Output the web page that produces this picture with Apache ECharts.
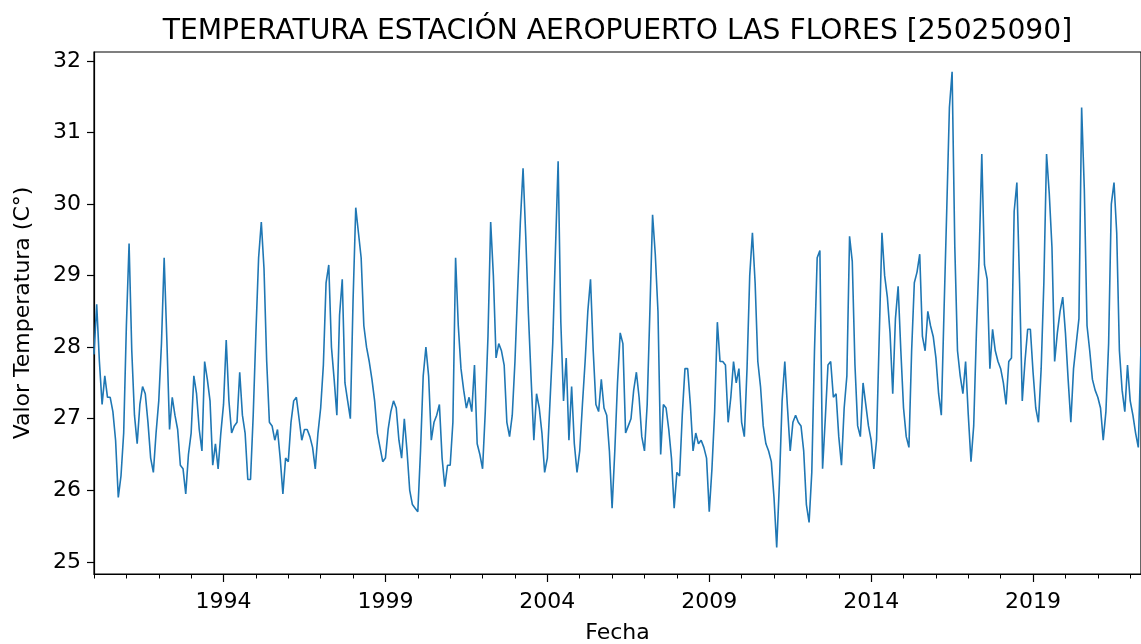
<!DOCTYPE html>
<html>
<head>
<meta charset="utf-8">
<script src="https://cdn.jsdelivr.net/npm/echarts@6/dist/echarts.min.js"></script>
<style>
  html, body { margin: 0; padding: 0; background: #fff; }
  #chart { width: 1141px; height: 644px; }
</style>
</head>
<body>
<div id="chart"></div>
<script>
// Monthly mean temperature, station 25025090, starting January 1990.
const startYear = 1990;
const temperatura = [
  27.9, 28.6, 27.8, 27.2, 27.6, 27.3, 27.3, 27.1, 26.7, 25.9, 26.2, 26.8,          // 1990
  28.3, 29.45, 27.95, 27.05, 26.65, 27.2, 27.45, 27.35, 26.95, 26.45, 26.25, 26.8, // 1991
  27.25, 28.05, 29.25, 28.1, 26.85, 27.3, 27.05, 26.85, 26.35, 26.3, 25.95, 26.5,  // 1992
  26.8, 27.6, 27.35, 26.85, 26.55, 27.8, 27.55, 27.25, 26.35, 26.65, 26.3, 26.8,   // 1993
  27.2, 28.1, 27.25, 26.8, 26.9, 26.95, 27.65, 27.05, 26.8, 26.15, 26.15, 27.05,   // 1994
  28.2, 29.25, 29.75, 29.1, 27.8, 26.95, 26.9, 26.7, 26.85, 26.45, 25.95, 26.45,   // 1995
  26.4, 26.95, 27.25, 27.3, 27.0, 26.7, 26.85, 26.85, 26.75, 26.6, 26.3, 26.8,     // 1996
  27.15, 27.75, 28.9, 29.15, 28.0, 27.55, 27.05, 28.45, 28.95, 27.5, 27.25, 27.0,  // 1997
  28.65, 29.95, 29.6, 29.25, 28.3, 28.0, 27.8, 27.55, 27.25, 26.8, 26.6, 26.4,     // 1998
  26.45, 26.85, 27.1, 27.25, 27.15, 26.7, 26.45, 27.0, 26.55, 26.0, 25.8, 25.75,   // 1999
  25.7, 26.55, 27.6, 28.0, 27.6, 26.7, 26.95, 27.05, 27.2, 26.45, 26.05, 26.35,    // 2000
  26.35, 26.95, 29.25, 28.3, 27.7, 27.4, 27.15, 27.3, 27.1, 27.75, 26.65, 26.5,    // 2001
  26.3, 27.1, 28.15, 29.75, 29.0, 27.85, 28.05, 27.95, 27.75, 26.95, 26.75, 27.05, // 2002
  27.8, 28.8, 29.75, 30.5, 29.55, 28.45, 27.55, 26.7, 27.35, 27.15, 26.8, 26.25,   // 2003
  26.45, 27.25, 28.05, 29.35, 30.6, 28.35, 27.25, 27.85, 26.7, 27.45, 26.65, 26.25,// 2004
  26.55, 27.2, 27.8, 28.5, 28.95, 27.95, 27.2, 27.1, 27.55, 27.15, 27.05, 26.55,   // 2005
  25.75, 26.55, 27.5, 28.2, 28.05, 26.8, 26.9, 27.0, 27.4, 27.65, 27.3, 26.75,     // 2006
  26.55, 27.2, 28.5, 29.85, 29.3, 28.5, 26.5, 27.2, 27.15, 26.85, 26.45, 25.75,    // 2007
  26.25, 26.2, 27.05, 27.7, 27.7, 27.2, 26.55, 26.8, 26.65, 26.7, 26.6, 26.45,     // 2008
  25.7, 26.3, 27.1, 28.35, 27.8, 27.8, 27.75, 26.95, 27.3, 27.8, 27.5, 27.7,       // 2009
  26.95, 26.75, 27.7, 29.0, 29.6, 28.9, 27.8, 27.45, 26.9, 26.65, 26.55, 26.4,     // 2010
  25.9, 25.2, 26.1, 27.25, 27.8, 27.15, 26.55, 26.95, 27.05, 26.95, 26.9, 26.55,   // 2011
  25.8, 25.55, 26.25, 27.95, 29.25, 29.35, 26.3, 27.0, 27.75, 27.8, 27.3, 27.35,   // 2012
  26.75, 26.35, 27.15, 27.6, 29.55, 29.2, 27.75, 26.9, 26.75, 27.5, 27.2, 26.9,    // 2013
  26.7, 26.3, 26.7, 28.15, 29.6, 29.0, 28.7, 28.2, 27.35, 28.4, 28.85, 27.95,      // 2014
  27.15, 26.75, 26.6, 27.95, 28.9, 29.05, 29.3, 28.15, 27.95, 28.5, 28.3, 28.15,   // 2015
  27.85, 27.35, 27.05, 28.5, 29.9, 31.35, 31.85, 29.4, 27.95, 27.6, 27.35, 27.8,   // 2016
  27.05, 26.4, 26.9, 28.2, 29.25, 30.7, 29.15, 28.95, 27.7, 28.25, 27.95, 27.8,    // 2017
  27.7, 27.5, 27.2, 27.8, 27.85, 29.9, 30.3, 28.9, 27.25, 27.8, 28.25, 28.25,      // 2018
  27.65, 27.15, 26.95, 27.7, 28.9, 30.7, 30.15, 29.4, 27.8, 28.2, 28.5, 28.7,      // 2019
  28.2, 27.55, 26.95, 27.7, 28.05, 28.4, 31.35, 30.2, 28.3, 27.95, 27.55, 27.4,    // 2020
  27.3, 27.15, 26.7, 27.1, 28.05, 30.0, 30.3, 29.6, 27.95, 27.4, 27.1, 27.75,      // 2021
  27.25, 27.05, 26.8, 26.6, 28.0                                                   // 2022
];

// Axis ticks
const yearLabels = [1994, 1999, 2004, 2009, 2014, 2019];
const tempLabels = [25, 26, 27, 28, 29, 30, 31, 32];
const minorYears = [];
for (let y = 1990; y <= 2022; y++) minorYears.push(y);

const titulo = 'TEMPERATURA ESTACIÓN AEROPUERTO LAS FLORES [25025090]';

// Each month sits at year + (month index)/12, like a monthly period index.
const serie = temperatura.map((v, k) => [startYear + k / 12, v]);
const xMin = startYear;
const xMax = startYear + (temperatura.length - 1) / 12;

const FONT = 'DejaVu Sans';
const INK = '#000';

const chart = echarts.init(document.getElementById('chart'), null, { renderer: 'canvas' });
chart.setOption({
  animation: false,
  backgroundColor: '#fff',
  textStyle: { fontFamily: FONT },
  graphic: [{
    type: 'text',
    x: 617.5,
    y: 32,
    style: {
      text: titulo,
      fontFamily: FONT,
      fontSize: 28.2,
      fill: INK,
      textAlign: 'center',
      textVerticalAlign: 'middle'
    }
  }],
  grid: {
    left: 94, right: 0, top: 52, bottom: 70,
    outerBoundsMode: 'none',
    containLabel: false,
    show: true, borderColor: INK, borderWidth: 1.2, backgroundColor: 'transparent'
  },
  xAxis: [{
    type: 'value',
    min: xMin, max: xMax,
    position: 'bottom',
    name: 'Fecha',
    nameLocation: 'middle',
    nameGap: 48,
    nameTextStyle: { fontFamily: FONT, fontSize: 22, color: INK },
    axisLine: { show: true, onZero: false, lineStyle: { color: INK, width: 1.2 } },
    axisTick: { show: true, customValues: yearLabels, length: 8, lineStyle: { color: INK, width: 1.2 } },
    axisLabel: {
      customValues: yearLabels, fontFamily: FONT, fontSize: 22, color: INK, margin: 17,
      formatter: v => String(Math.round(v))
    },
    splitLine: { show: false }
  }, {
    // yearly minor ticks
    type: 'value',
    min: xMin, max: xMax,
    position: 'bottom',
    axisLine: { show: false },
    axisTick: { show: true, customValues: minorYears, length: 4.5, lineStyle: { color: INK, width: 1 } },
    axisLabel: { show: false },
    splitLine: { show: false }
  }],
  yAxis: {
    type: 'value',
    min: 24.83, max: 32.126,
    name: 'Valor Temperatura (C°)',
    nameLocation: 'middle',
    nameRotate: 90,
    nameGap: 60,
    nameTextStyle: { fontFamily: FONT, fontSize: 22, color: INK },
    axisLine: { show: true, onZero: false, lineStyle: { color: INK, width: 1.2 } },
    axisTick: { show: true, customValues: tempLabels, length: 7, lineStyle: { color: INK, width: 1.2 } },
    axisLabel: {
      customValues: tempLabels, fontFamily: FONT, fontSize: 22, color: INK, margin: 13,
      formatter: v => String(Math.round(v))
    },
    splitLine: { show: false }
  },
  series: [{
    type: 'line',
    xAxisIndex: 0,
    data: serie,
    symbol: 'none',
    showSymbol: false,
    silent: true,
    lineStyle: { color: '#1f77b4', width: 1.6 },
    itemStyle: { color: '#1f77b4' }
  }]
});
</script>
</body>
</html>
